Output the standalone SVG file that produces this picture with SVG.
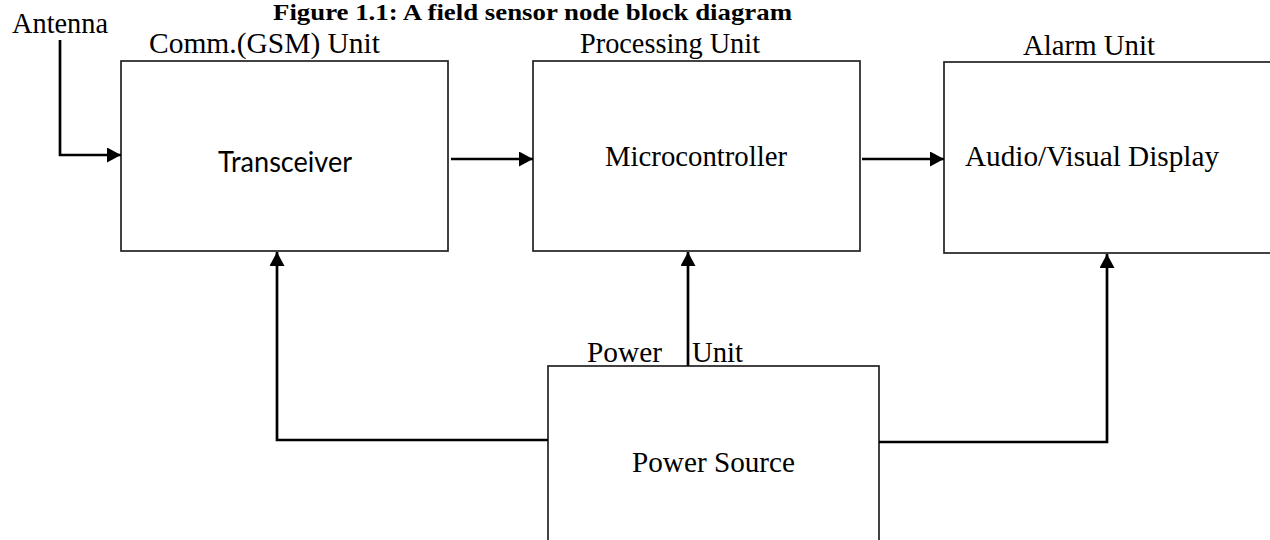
<svg xmlns="http://www.w3.org/2000/svg" width="1270" height="540" viewBox="0 0 1270 540">
<style>
.box{fill:#fff;stroke:#222;stroke-width:1.7}
.lbl{font-family:"Liberation Serif","Times New Roman",serif;font-size:28.5px;fill:#000}
.sans{font-family:Lato,"Liberation Sans",Arial,sans-serif;font-size:28.5px;fill:#000}
.title{font-family:"Liberation Serif","Times New Roman",serif;font-size:24px;font-weight:bold;fill:#000}
.conn{fill:none;stroke:#000;stroke-width:2.7}
</style>
<defs>
<marker id="ah" markerUnits="userSpaceOnUse" markerWidth="16" markerHeight="16" refX="14" refY="7.5" orient="auto">
<path d="M0,0 L14,7.5 L0,15 z" fill="#000"/>
</marker>
</defs>
<rect width="1270" height="540" fill="#fff"/>
<text class="title" x="273" y="20" textLength="519" lengthAdjust="spacingAndGlyphs">Figure 1.1: A field sensor node block diagram</text>
<text class="lbl" x="12" y="33" textLength="96" lengthAdjust="spacingAndGlyphs">Antenna</text>
<g id="transceiver">
<rect class="box" x="121" y="61" width="327" height="190"/>
<text class="lbl" x="149" y="53" textLength="231" lengthAdjust="spacingAndGlyphs">Comm.(GSM) Unit</text>
<text class="sans" x="218" y="172" textLength="134" lengthAdjust="spacingAndGlyphs">Transceiver</text>
</g>
<g id="microcontroller">
<rect class="box" x="533" y="61" width="327" height="190"/>
<text class="lbl" x="580" y="53" textLength="180" lengthAdjust="spacingAndGlyphs">Processing Unit</text>
<text class="lbl" x="605" y="166" textLength="182" lengthAdjust="spacingAndGlyphs">Microcontroller</text>
</g>
<g id="alarm">
<rect class="box" x="944" y="62" width="340" height="191"/>
<text class="lbl" x="1023" y="55" textLength="132" lengthAdjust="spacingAndGlyphs">Alarm Unit</text>
<text class="lbl" x="965" y="166" textLength="254" lengthAdjust="spacingAndGlyphs">Audio/Visual Display</text>
</g>
<g id="power">
<rect class="box" x="548" y="366" width="331" height="190"/>
<text class="lbl" x="587" y="362" textLength="75" lengthAdjust="spacingAndGlyphs">Power</text>
<text class="lbl" x="692" y="362" textLength="51" lengthAdjust="spacingAndGlyphs">Unit</text>
<text class="lbl" x="632" y="472" textLength="163" lengthAdjust="spacingAndGlyphs">Power Source</text>
</g>
<g id="connectors">
<path class="conn" d="M60,40 V155 H121" marker-end="url(#ah)"/>
<path class="conn" d="M451,159 H533" marker-end="url(#ah)"/>
<path class="conn" d="M862,159 H944" marker-end="url(#ah)"/>
<path class="conn" d="M548,440 H277 V252" marker-end="url(#ah)"/>
<path class="conn" d="M688,366 V252" marker-end="url(#ah)"/>
<path class="conn" d="M879,442 H1107 V254" marker-end="url(#ah)"/>
</g>
</svg>
